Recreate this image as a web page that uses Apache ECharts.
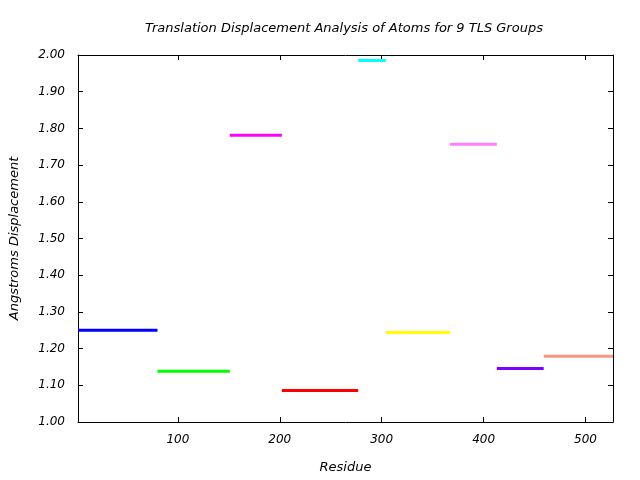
<!DOCTYPE html>
<html>
<head>
<meta charset="utf-8">
<script src="https://cdn.jsdelivr.net/npm/echarts@6/dist/echarts.min.js"></script>
<style>html,body{margin:0;padding:0;background:#fff}#c{width:640px;height:480px}</style>
</head>
<body>
<div id="c"></div>
<script>
// TLS group residue ranges and translation displacement values
const groupStart = [2, 80, 151, 202, 277, 304, 367, 413, 459];
const groupEnd   = [80, 151, 202, 277, 304, 367, 413, 459, 527];
const groupValue = [1.250, 1.138, 1.781, 1.086, 1.985, 1.244, 1.757, 1.146, 1.179];
const groupColors = ['#0000ff', '#00ff00', '#ff00ff', '#ff0000', '#00ffff', '#ffff00', '#ff80ff', '#8000ff', '#f89880'];
const xTicks = [100, 200, 300, 400, 500];
const yTicks = [1.0, 1.1, 1.2, 1.3, 1.4, 1.5, 1.6, 1.7, 1.8, 1.9, 2.0];

const font = 'DejaVu Sans';
const axisLine = {show: true, onZero: false, lineStyle: {color: '#000', width: 1}};
const tickStyle = {inside: true, length: 5, lineStyle: {color: '#000', width: 1}};

const series = groupValue.map((v, i) => ({
  type: 'line',
  xAxisIndex: 0, yAxisIndex: 0,
  data: [[groupStart[i], v], [groupEnd[i], v]],
  showSymbol: false,
  symbol: 'none',
  silent: true,
  animation: false,
  lineStyle: {color: groupColors[i], width: 3, cap: 'butt'},
  z: 1
}));

const chart = echarts.init(document.getElementById('c'), null, {renderer: 'canvas'});
chart.setOption({
  backgroundColor: '#ffffff',
  animation: false,
  title: {
    text: 'Translation Displacement Analysis of Atoms for 9 TLS Groups',
    left: 339, top: 17, textAlign: 'center',
    textStyle: {fontFamily: font, fontStyle: 'italic', fontWeight: 'normal', fontSize: 13, color: '#000'}
  },
  grid: {left: 76, right: 27, top: 55, bottom: 58, containLabel: false},
  xAxis: [{
    type: 'value', min: 2, max: 527, position: 'bottom',
    name: 'Residue', nameLocation: 'middle', nameGap: 39,
    nameTextStyle: {fontFamily: font, fontStyle: 'italic', fontSize: 13, color: '#000'},
    axisLine: axisLine,
    axisTick: Object.assign({customValues: xTicks}, tickStyle),
    axisLabel: {customValues: xTicks, fontFamily: font, fontStyle: 'italic', fontSize: 12, color: '#000', margin: 12},
    splitLine: {show: false}
  }, {
    type: 'value', min: 2, max: 527, position: 'top',
    axisLine: axisLine,
    axisTick: Object.assign({customValues: xTicks}, tickStyle),
    axisLabel: {show: false},
    splitLine: {show: false}
  }],
  yAxis: [{
    type: 'value', min: 1, max: 2, position: 'left',
    name: 'Angstroms Displacement', nameLocation: 'middle', nameGap: 57, nameRotate: 90,
    nameTextStyle: {fontFamily: font, fontStyle: 'italic', fontSize: 13, color: '#000'},
    axisLine: axisLine,
    axisTick: Object.assign({customValues: yTicks}, tickStyle),
    axisLabel: {customValues: yTicks, formatter: v => v.toFixed(2), fontFamily: font, fontStyle: 'italic', fontSize: 12, color: '#000', margin: 13},
    splitLine: {show: false}
  }, {
    type: 'value', min: 1, max: 2, position: 'right',
    axisLine: axisLine,
    axisTick: Object.assign({customValues: yTicks}, tickStyle),
    axisLabel: {show: false},
    splitLine: {show: false}
  }],
  series: series
});
</script>
</body>
</html>
